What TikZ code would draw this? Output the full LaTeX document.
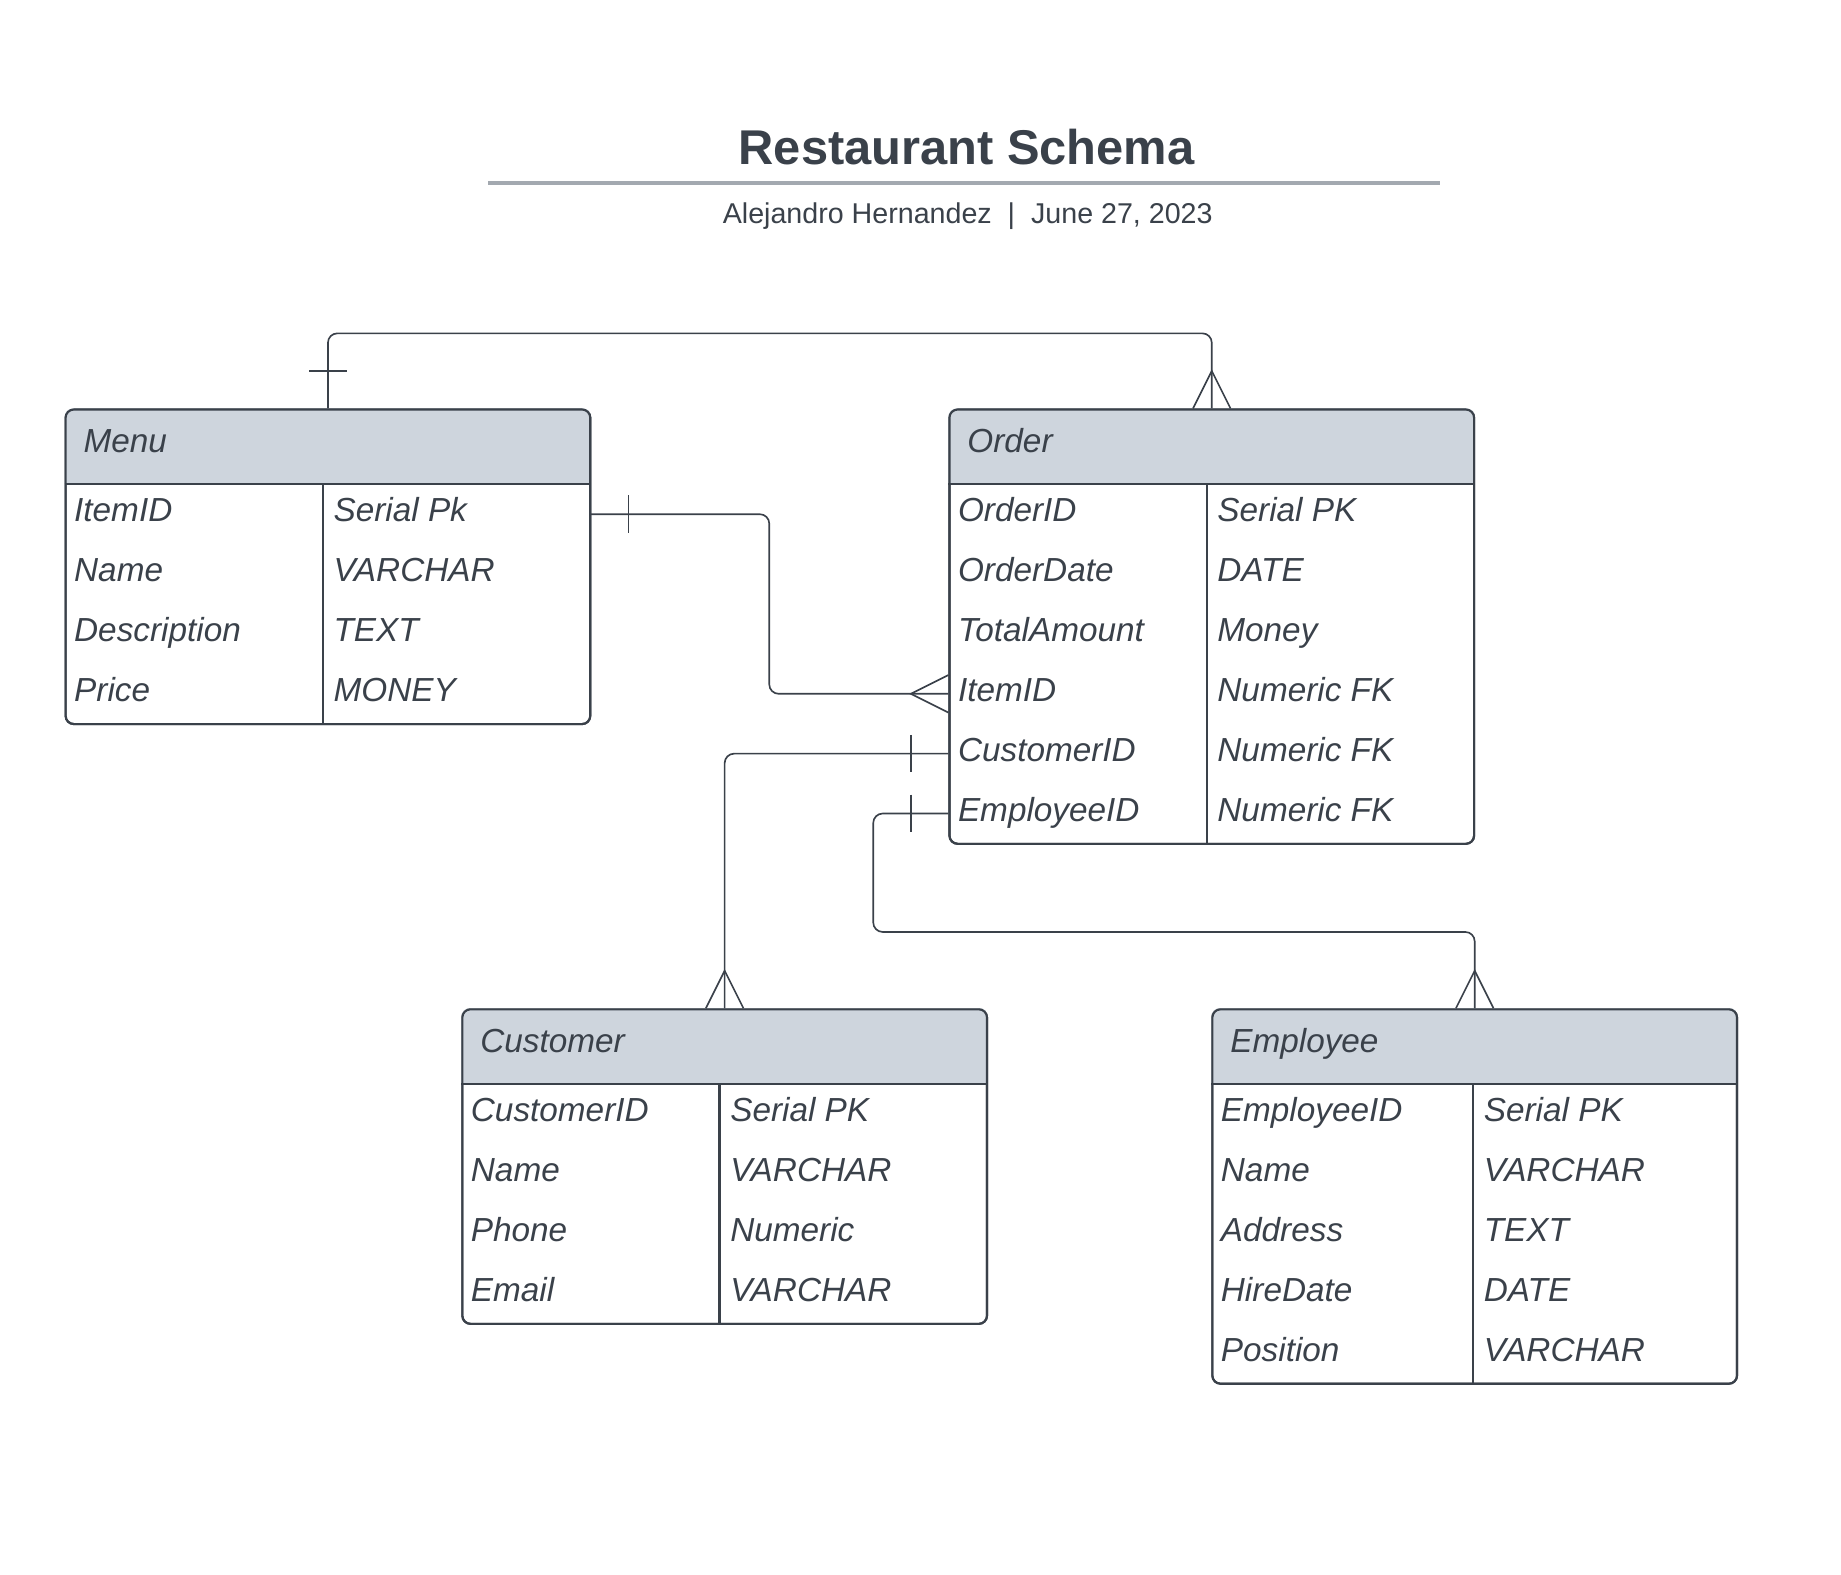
\documentclass[tikz,border=0pt]{standalone}
\usepackage{fontspec}
\setmainfont{Liberation Sans}
\usetikzlibrary{calc}
\definecolor{inkc}{HTML}{3A414A}
\definecolor{hdrc}{HTML}{CED5DD}
\definecolor{rulec}{HTML}{A3A9B0}
\tikzset{
  tabbox/.style={draw=inkc, line width=1.8pt, rounded corners=7pt, inner sep=0pt, minimum width=447pt},
  rowbox/.style={inner sep=0pt, minimum width=447pt, minimum height=51pt},
  hdrbox/.style={inner sep=0pt, minimum width=447pt, minimum height=64pt},
  celltext/.style={inner sep=0pt, anchor=base west, text=inkc, font=\fontsize{28.4}{34}\selectfont\itshape},
  conn/.style={draw=inkc, line width=1.4pt},
  sepline/.style={draw=inkc, line width=1.8pt},
}
% #1 name, #2 top-left, #3 title, #4 divider offset, #5 number of rows, #6 rows key/field/type
\newcommand\erdtable[6]{%
  \node[tabbox, anchor=north west, minimum height={64pt+51pt*#5}] (#1) at #2 {};
  \node[hdrbox, anchor=north west] (#1-hdr) at (#1.north west) {};
  \begin{scope}
    \clip[rounded corners=7pt] (#1.north west) rectangle (#1.south east);
    \fill[hdrc] (#1-hdr.north west) rectangle (#1-hdr.south east);
  \end{scope}
  \node[tabbox, anchor=north west, minimum height={64pt+51pt*#5}] at #2 {};
  \draw[sepline] (#1-hdr.south west) -- (#1-hdr.south east);
  \node[celltext, font=\fontsize{28.4}{34}\selectfont\itshape] (#1-title) at ($(#1-hdr.north west)+(16,37.5)$) {#3};
  \foreach \k/\f/\t [count=\i] in {#6} {
    \node[rowbox, anchor=north west] (#1-\k) at ($(#1-hdr.south west)+(0,{51*(\i-1)})$) {};
    \node[celltext] (#1-\k-f) at ($(#1-\k.west)+(8,6.5)$) {\f};
    \node[celltext] (#1-\k-t) at ($(#1-\k.west)+(#4+9,6.5)$) {\t};
  }
  \draw[sepline] ($(#1-hdr.south west)+(#4,0)$) -- ($(#1.south west)+(#4,0)$);
}
\begin{document}
\begin{tikzpicture}[x=1pt, y=-1pt]
\useasboundingbox (0,0) rectangle (1568.5,1341.8);
% title block
\node[inner sep=0pt, anchor=base, text=inkc, font=\fontsize{41.6}{48}\selectfont\bfseries] (title) at (823.5,140) {Restaurant Schema};
\draw[draw=rulec, line width=2.8pt] (416,156) -- (1227,156);
\node[inner sep=0pt, anchor=base, text=inkc, font=\fontsize{24.4}{30}\selectfont] (sub) at (824.5,190) {Alejandro Hernandez\ \ |\ \ June 27, 2023};
% tables
\erdtable{menu}{(55,348)}{Menu}{220}{4}{itemid/ItemID/Serial Pk, name/Name/VARCHAR, desc/Description/TEXT, price/Price/MONEY}
\erdtable{order}{(808,348)}{Order}{220}{6}{orderid/OrderID/Serial PK, orderdate/OrderDate/DATE, total/TotalAmount/Money, itemid/ItemID/Numeric FK, customerid/CustomerID/Numeric FK, employeeid/EmployeeID/Numeric FK}
\erdtable{customer}{(393,859)}{Customer}{220}{4}{customerid/CustomerID/Serial PK, name/Name/VARCHAR, phone/Phone/Numeric, email/Email/VARCHAR}
\erdtable{employee}{(1032,859)}{Employee}{223}{5}{employeeid/EmployeeID/Serial PK, name/Name/VARCHAR, address/Address/TEXT, hiredate/HireDate/DATE, position/Position/VARCHAR}
% connectors
\draw[conn, rounded corners=8pt] (menu.north) -- ++(0,-64) -| (order.north);
\draw[conn] ($(menu.north)+(-16,-32)$) -- ($(menu.north)+(16,-32)$);
\draw[conn] ($(order.north)+(-16,0)$) -- ($(order.north)+(0,-32)$) -- ($(order.north)+(16,0)$);

\draw[conn, rounded corners=8pt] (menu-itemid.east) -- ++(153,0) |- (order-itemid.west);
\draw[conn] ($(menu-itemid.east)+(33,-16)$) -- ($(menu-itemid.east)+(33,16)$);
\draw[conn] ($(order-itemid.west)+(0,-16)$) -- ($(order-itemid.west)+(-32,0)$) -- ($(order-itemid.west)+(0,16)$);

\draw[conn, rounded corners=8pt] (customer.north) |- (order-customerid.west);
\draw[conn] ($(order-customerid.west)+(-32,-16)$) -- ($(order-customerid.west)+(-32,16)$);
\draw[conn] ($(customer.north)+(-16,0)$) -- ($(customer.north)+(0,-32)$) -- ($(customer.north)+(16,0)$);

\draw[conn, rounded corners=8pt] (employee.north) -- ++(0,-65) -| ($(order-employeeid.west)+(-64,0)$) -- (order-employeeid.west);
\draw[conn] ($(order-employeeid.west)+(-32,-16)$) -- ($(order-employeeid.west)+(-32,16)$);
\draw[conn] ($(employee.north)+(-16,0)$) -- ($(employee.north)+(0,-32)$) -- ($(employee.north)+(16,0)$);
\end{tikzpicture}
\end{document}
